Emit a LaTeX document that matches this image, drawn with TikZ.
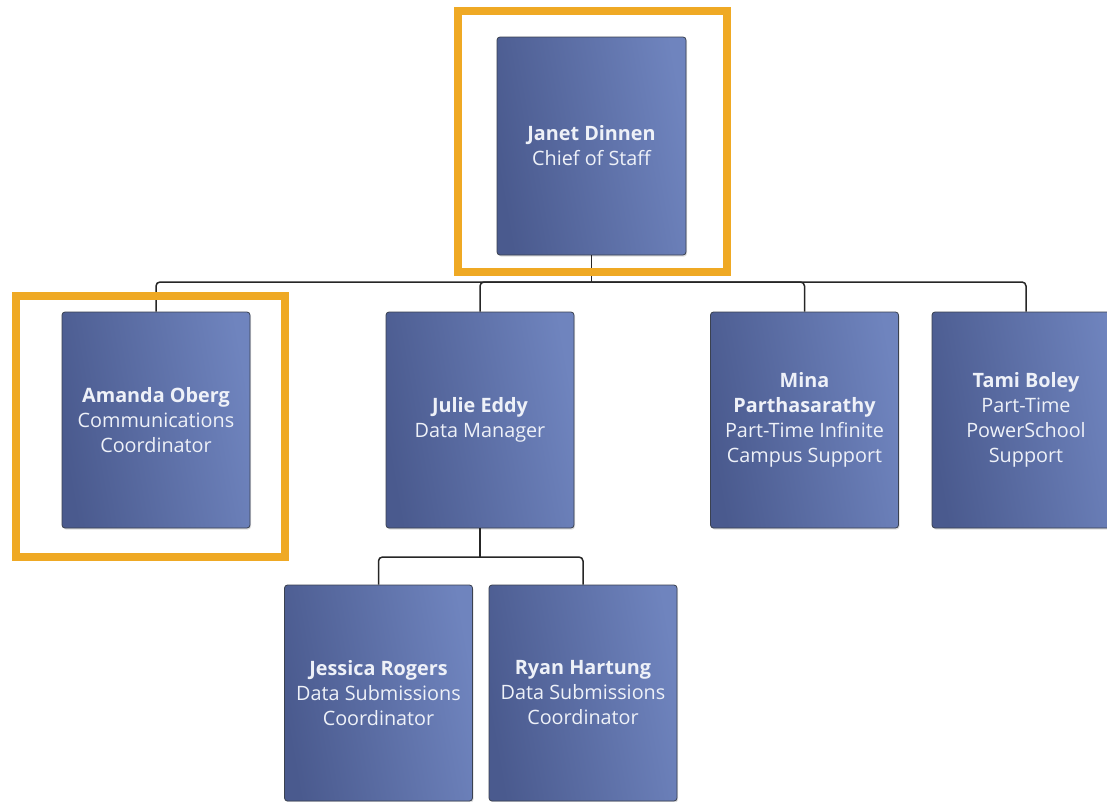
\documentclass[tikz,border=0pt]{standalone}
\usepackage{fontspec}
\setmainfont{Open Sans}
\usetikzlibrary{shadows}
\definecolor{boxL}{HTML}{4A5A8E}
\definecolor{boxR}{HTML}{6F84BE}
\definecolor{boxEdge}{HTML}{3A4150}
\definecolor{txt}{HTML}{EEF1F8}
\definecolor{frameOr}{HTML}{EFA924}
\tikzset{
  person/.style={draw=boxEdge, line width=0.8pt, rounded corners=3pt,
    left color=boxL, right color=boxR, shading angle=100,
    minimum width=188pt, minimum height=216pt, inner sep=0pt,
    align=center, text=txt, font=\fontsize{19.8}{25}\selectfont,
    drop shadow={shadow xshift=1pt, shadow yshift=-1.5pt, opacity=0.25}},
  link/.style={draw=black!85, line width=1.5pt, rounded corners=4pt},
  hilite/.style={draw=frameOr, line width=8pt}
}
\begin{document}
\begin{tikzpicture}[x=1pt,y=-1pt]
\useasboundingbox (0,0) rectangle (1107,801);
\clip (0,0) rectangle (1107,801);
\fill[white] (0,0) rectangle (1107,801);
% nodes
\node[person, minimum width=189pt, minimum height=218pt] (janet) at (591.5,146) {\textbf{Janet Dinnen}\\Chief of Staff};
\node[person] (amanda) at (156,420) {\textbf{Amanda Oberg}\\Communications\\Coordinator};
\node[person] (julie) at (480,420) {\textbf{Julie Eddy}\\Data Manager};
\node[person] (mina) at (804.5,420) {\textbf{Mina}\\\textbf{Parthasarathy}\\Part-Time Infinite\\Campus Support};
\node[person] (tami) at (1026,420) {\textbf{Tami Boley}\\Part-Time\\PowerSchool\\Support};
\node[person] (jessica) at (378.5,693) {\textbf{Jessica Rogers}\\Data Submissions\\Coordinator};
\node[person] (ryan) at (583,693) {\textbf{Ryan Hartung}\\Data Submissions\\Coordinator};
% junctions
\coordinate (j1) at (591.5,282);
\coordinate (j2) at (480,557);
% connectors
\draw[link] (janet.south) -- (j1);
\draw[link] (j1) -| (amanda.north);
\draw[link] (j1) -| (julie.north);
\draw[link] (j1) -| (mina.north);
\draw[link] (j1) -| (tami.north);
\draw[link] (julie.south) -- (j2);
\draw[link] (j2) -| (jessica.north);
\draw[link] (j2) -| (ryan.north);
% highlight frames
\draw[hilite] (457.5,11) rectangle (727,272);
\draw[hilite] (16,295.5) rectangle (284.5,556.5);
\end{tikzpicture}
\end{document}
